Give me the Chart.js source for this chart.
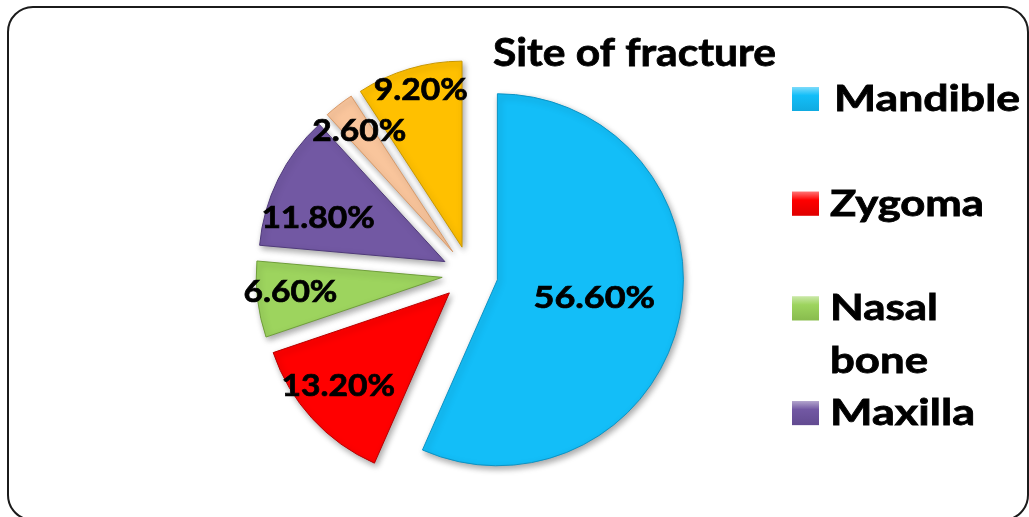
<!DOCTYPE html>
<html>
<head>
<meta charset="utf-8">
<title>Site of fracture</title>
<script src="https://cdn.jsdelivr.net/npm/chart.js@4.4.0/dist/chart.umd.min.js"></script>
<style>
  html, body { margin: 0; padding: 0; background: #fff; }
  body { width: 1029px; height: 517px; overflow: hidden; position: relative; }
  #frame {
    position: absolute; left: 7px; top: 6px; width: 1022px; height: 515px;
    border: 2px solid #1b1b1b; border-radius: 26px; box-sizing: border-box;
  }
  #pie { position: absolute; left: 0; top: 0; }
</style>
</head>
<body>
<div id="frame"></div>
<canvas id="pie" width="1029" height="517"></canvas>
<script>
const chartTitle = "Site of fracture";
// the last two categories are cut off from the legend in the original
const categories = ["Mandible", "Zygoma", "Nasal bone", "Maxilla", "Category 5", "Category 6"];
const percentages = [56.6, 13.2, 6.6, 11.8, 2.6, 9.2];
const legendCount = 4;

const sliceColors = ["#13bef8", "#ff0000", "#9dd45e", "#7258a3", "#f9c59c", "#ffc000"];
const sliceBorders = ["#0c93c4", "#b80000", "#6f9e3a", "#4f3a7a", "#d99a68", "#c99700"];

const explode = 28;
const labelDist = [0.53, 0.78, 0.82, 0.72, 0.82, 0.87];
const labelTurn = [-1, 2, 1, -6, 0, 1.5]; // degrees, nudges along the arc
// widths the legend words take in the original
const legendWidths = { Mandible: 186, Zygoma: 154, Nasal: 108, bone: 98, Maxilla: 145 };
const FONT = "Lato, 'Open Sans', sans-serif";

// draws bold text scaled horizontally so it fills a given width
function fitText(ctx, text, x, baseline, size, width) {
  ctx.font = "bold " + size + "px " + FONT;
  const w = ctx.measureText(text).width;
  ctx.save();
  ctx.translate(x, baseline);
  ctx.scale(width / w, 1);
  ctx.textAlign = "left";
  ctx.textBaseline = "alphabetic";
  ctx.lineWidth = 0.8;
  ctx.strokeStyle = "#000";
  ctx.fillText(text, 0, 0);
  ctx.strokeText(text, 0, 0);
  ctx.restore();
}

const explodedPie = {
  id: "explodedPie",
  beforeDatasetDraw(chart, args) {
    const ctx = chart.ctx;
    args.meta.data.forEach((arc) => {
      const mid = (arc.startAngle + arc.endAngle) / 2;
      ctx.save();
      ctx.shadowColor = "rgba(0,0,0,0.35)";
      ctx.shadowBlur = 6;
      ctx.shadowOffsetX = 2;
      ctx.shadowOffsetY = 3;
      ctx.translate(Math.cos(mid) * explode, Math.sin(mid) * explode);
      arc.draw(ctx);
      ctx.restore();
    });
    return false;
  },
  afterDatasetsDraw(chart) {
    const ctx = chart.ctx;
    const meta = chart.getDatasetMeta(0);
    ctx.save();
    ctx.fillStyle = "#000";
    ctx.strokeStyle = "#000";
    ctx.lineWidth = 0.7;
    ctx.font = "bold 30px " + FONT;
    ctx.textAlign = "center";
    ctx.textBaseline = "middle";
    meta.data.forEach((arc, i) => {
      const mid = (arc.startAngle + arc.endAngle) / 2;
      const a = mid + labelTurn[i] * Math.PI / 180;
      const d = explode + arc.outerRadius * labelDist[i];
      const txt = percentages[i].toFixed(2) + "%";
      ctx.save();
      ctx.translate(arc.x + Math.cos(a) * d, arc.y + Math.sin(a) * d);
      ctx.scale(i === 0 ? 1.2 : 1.12, 1);
      ctx.fillText(txt, 0, 0);
      ctx.strokeText(txt, 0, 0);
      ctx.restore();
    });
    ctx.restore();
  },
  afterDraw(chart) {
    const ctx = chart.ctx;
    ctx.save();
    ctx.fillStyle = "#000";
    fitText(ctx, chartTitle, 493, 66, 39, 283);

    // legend (only the first four entries fit in the original)
    for (let i = 0; i < legendCount; i++) {
      const base = 111 + i * 104.7;
      const g = ctx.createLinearGradient(0, base - 24, 0, base);
      g.addColorStop(0, "#ffffff");
      g.addColorStop(0.35, sliceColors[i]);
      g.addColorStop(1, sliceBorders[i]);
      ctx.fillStyle = sliceColors[i];
      ctx.fillRect(792, base - 24, 27, 24);
      ctx.globalAlpha = 0.45;
      ctx.fillStyle = g;
      ctx.fillRect(792, base - 24, 27, 24);
      ctx.globalAlpha = 1;
      ctx.fillStyle = "#000";
      categories[i].split(" ").forEach((line, k) => {
        fitText(ctx, line, i === 0 ? 834 : 830, base + k * 52.5, 37, legendWidths[line]);
      });
    }
    ctx.restore();
  }
};

new Chart(document.getElementById("pie"), {
  type: "pie",
  data: {
    labels: categories,
    datasets: [{
      data: percentages,
      backgroundColor: sliceColors,
      borderColor: sliceBorders,
      borderWidth: 1
    }]
  },
  options: {
    responsive: false,
    animation: false,
    radius: 186,
    layout: { padding: { left: 2, right: 91, top: 31, bottom: 0 } },
    plugins: {
      legend: { display: false },
      title: { display: false },
      tooltip: { enabled: false }
    }
  },
  plugins: [explodedPie]
});
</script>
</body>
</html>
